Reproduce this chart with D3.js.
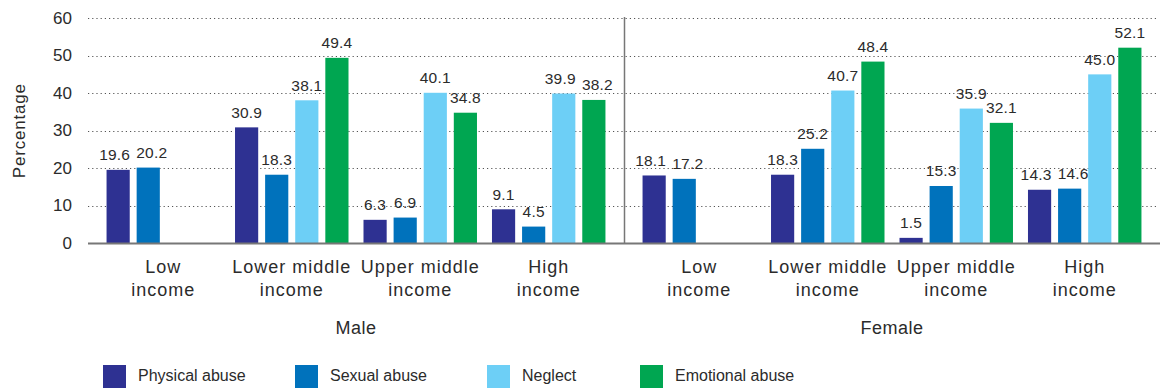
<!DOCTYPE html>
<html>
<head>
<meta charset="utf-8">
<script src="https://cdn.jsdelivr.net/npm/d3@7"></script>
<style>
  body { margin: 0; background: #fff; }
  svg text { font-family: "Liberation Sans", Arial, sans-serif; fill: #2b2b2b; }
</style>
</head>
<body>
<svg width="1160" height="392"></svg>
<script>
var svg = d3.select("svg"),
    width = +svg.attr("width"),
    height = +svg.attr("height");

// data
var sexes = ["Male", "Female"];
var incomes = ["Low income", "Lower middle income", "Upper middle income", "High income"];
var incomeLines = [["Low", "income"], ["Lower middle", "income"], ["Upper middle", "income"], ["High", "income"]];
var series = ["Physical abuse", "Sexual abuse", "Neglect", "Emotional abuse"];
var colors = ["#2e3192", "#0072bc", "#6dcff6", "#00a651"];
// values per income group, order of series; null = no data
var maleValues = [
    [19.6, 20.2, null, null],
    [30.9, 18.3, 38.1, 49.4],
    [6.3, 6.9, 40.1, 34.8],
    [9.1, 4.5, 39.9, 38.2]
];
var femaleValues = [
    [18.1, 17.2, null, null],
    [18.3, 25.2, 40.7, 48.4],
    [1.5, 15.3, 35.9, 32.1],
    [14.3, 14.6, 45.0, 52.1]
];
var yTicks = [0, 10, 20, 30, 40, 50, 60];

var margin = { left: 88, right: 0, top: 18, bottom: 243.5 };

var rows = [];
sexes.forEach(function (s, si) {
    var vals = si === 0 ? maleValues : femaleValues;
    incomes.forEach(function (inc, ii) {
        series.forEach(function (ser, k) {
            if (vals[ii][k] != null) rows.push({ sex: s, income: inc, series: ser, k: k, value: vals[ii][k], nudge: 0 });
        });
    });
});

var y = d3.scaleLinear().domain([0, 60]).range([margin.bottom, margin.top]);

var xSex = d3.scaleBand().domain(sexes).range([margin.left, width]);
var xInc = d3.scaleBand().domain(incomes).range([0, xSex.bandwidth()]).paddingInner(0).paddingOuter(0.086);
var xSer = d3.scaleBand().domain(series).range([7.5, xInc.bandwidth() - 7.5]).paddingInner(0.23).paddingOuter(0);
var color = d3.scaleOrdinal().domain(series).range(colors);

function barX(d) { return xSex(d.sex) + xInc(d.income) + xSer(d.series); }

// push apart neighbouring value labels that would touch
rows.forEach(function (d, i) {
    var n = rows[i + 1];
    if (!n || n.sex !== d.sex || n.income !== d.income) return;
    var wide = d.value >= 10 && n.value >= 10;
    if (wide && Math.abs(y(d.value) - y(n.value)) < 12) {
        d.nudge -= 3.5;
        n.nudge += 3.5;
    }
});

// gridlines
svg.append("g")
    .selectAll("line")
    .data(yTicks.filter(function (t) { return t > 0; }))
    .enter().append("line")
    .attr("x1", margin.left)
    .attr("x2", width - 3)
    .attr("y1", function (d) { return Math.round(y(d)) + 0.5; })
    .attr("y2", function (d) { return Math.round(y(d)) + 0.5; })
    .attr("stroke", "#555")
    .attr("stroke-width", 1)
    .attr("stroke-dasharray", "1.2,3");

// y tick labels
svg.append("g")
    .selectAll("text")
    .data(yTicks)
    .enter().append("text")
    .attr("x", 72)
    .attr("y", function (d) { return y(d) + 5.5; })
    .attr("text-anchor", "end")
    .attr("font-size", 17)
    .text(function (d) { return d; });

svg.append("text")
    .attr("transform", "translate(25," + (y(30)) + ") rotate(-90)")
    .attr("text-anchor", "middle")
    .attr("font-size", 17)
    .attr("letter-spacing", 0.8)
    .text("Percentage");

// separator between sexes
svg.append("line")
    .attr("x1", xSex("Female") + 0.5)
    .attr("x2", xSex("Female") + 0.5)
    .attr("y1", margin.top - 1)
    .attr("y2", margin.bottom)
    .attr("stroke", "#777")
    .attr("stroke-width", 1.5);

// bars
svg.append("g")
    .selectAll("rect")
    .data(rows)
    .enter().append("rect")
    .attr("x", barX)
    .attr("width", xSer.bandwidth())
    .attr("y", function (d) { return y(d.value); })
    .attr("height", function (d) { return y(0) - y(d.value); })
    .attr("fill", function (d) { return color(d.series); });

// value labels
svg.append("g")
    .selectAll("text")
    .data(rows)
    .enter().append("text")
    .attr("x", function (d) { return barX(d) + xSer.bandwidth() / 2 + d.nudge; })
    .attr("y", function (d) { return y(d.value) - 9.5; })
    .attr("text-anchor", "middle")
    .attr("font-size", 15.5)
    .attr("letter-spacing", 0.2)
    .text(function (d) { return d.value.toFixed(1); });

// baseline
svg.append("line")
    .attr("x1", margin.left)
    .attr("x2", width)
    .attr("y1", y(0))
    .attr("y2", y(0))
    .attr("stroke", "#777")
    .attr("stroke-width", 2);

// income labels
sexes.forEach(function (s) {
    incomes.forEach(function (inc, ii) {
        var cx = xSex(s) + xInc(inc) + xInc.bandwidth() / 2;
        var t = svg.append("text")
            .attr("x", cx)
            .attr("y", 273)
            .attr("text-anchor", "middle")
            .attr("font-size", 18)
            .attr("letter-spacing", 1);
        incomeLines[ii].forEach(function (line, li) {
            t.append("tspan").attr("x", cx).attr("dy", li ? 23 : 0).text(line);
        });
    });
    svg.append("text")
        .attr("x", xSex(s) + xSex.bandwidth() / 2)
        .attr("y", 334)
        .attr("text-anchor", "middle")
        .attr("font-size", 18)
        .attr("letter-spacing", 0.5)
        .text(s);
});

// legend
var legendX = [103, 295, 487, 640];
var legend = svg.append("g").attr("class", "legend");
series.forEach(function (ser, i) {
    legend.append("rect")
        .attr("x", legendX[i])
        .attr("y", 365)
        .attr("width", 23)
        .attr("height", 23)
        .attr("fill", color(ser));
    legend.append("text")
        .attr("x", legendX[i] + 35)
        .attr("y", 381)
        .attr("font-size", 16)
        .text(ser);
});
</script>
</body>
</html>
